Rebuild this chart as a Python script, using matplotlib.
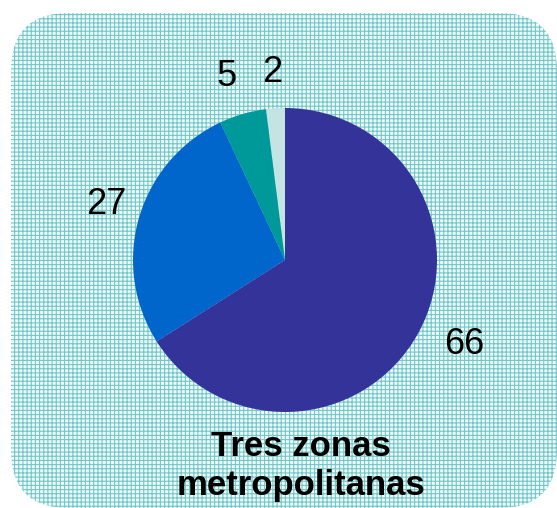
import matplotlib
matplotlib.use("Agg")
import matplotlib.pyplot as plt
from matplotlib.patches import FancyBboxPatch

values = [2, 5, 27, 66]
labels = ["2", "5", "27", "66"]
colors = ["#c4e4e4", "#009999", "#0066cc", "#333399"]
title = "Tres zonas\nmetropolitanas"

plt.rcParams['font.family'] = ['Liberation Sans', 'DejaVu Sans']
plt.rcParams['hatch.linewidth'] = 0.8

W, H = 557, 508
fig = plt.figure(figsize=(W / 100, H / 100), dpi=100)
bg = fig.add_axes([0, 0, 1, 1])
bg.set_xlim(0, W)
bg.set_ylim(H, 0)
bg.axis('off')
rad = 58
x0, y0, x1, y1 = 11, 13, 557, 508
box = FancyBboxPatch((x0 + rad, y0 + rad), x1 - x0 - 2 * rad, y1 - y0 - 2 * rad,
                     boxstyle=f"round,pad={rad}", facecolor="#eef9f9",
                     edgecolor="#74c8c8", hatch="++++", linewidth=0)
bg.add_patch(box)

# pie axes: center (285, 260), radius 152 px
r = 152
cx, cy = 285, 260
ax = fig.add_axes([(cx - r) / W, (H - cy - r) / H, 2 * r / W, 2 * r / H])
wedges, texts = ax.pie(values, colors=colors, startangle=90, counterclock=True,
                       labels=labels, labeldistance=1.2,
                       textprops=dict(fontsize=26, color="black"),
                       wedgeprops=dict(linewidth=0))
ax.set_aspect('auto')
ax.set_xlim(-1, 1)
ax.set_ylim(-1, 1)

# adjust label positions to match reference
label_pos = {"2": (272, 73), "5": (227, 76), "27": (106, 205), "66": (464, 344)}
for t in texts:
    t.set_visible(False)
for lab in labels:
    x, y = label_pos[lab]
    bg.text(x, y, lab, fontsize=26, ha='center', va='center', color='black')

bg.text(301, 466, title, fontsize=25, fontweight='bold', ha='center',
        va='center', linespacing=1.2, color='black')

fig.savefig("out.png", dpi=100)
